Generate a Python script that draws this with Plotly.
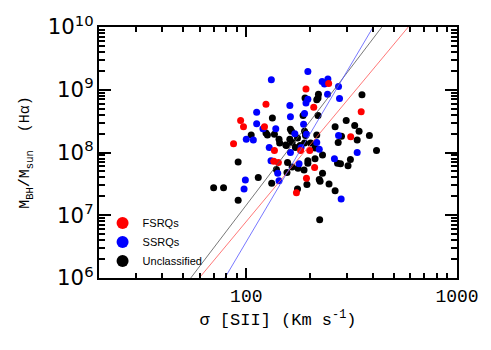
import plotly.graph_objects as go

# FSRQs: sigma [SII] (km/s), log10 M_BH
fsrq_sigma = [124, 94, 97, 122, 87, 136, 192, 209, 246, 351, 313, 181, 200, 135, 142, 211, 193, 173]
fsrq_logm = [8.77, 8.51, 8.41, 8.41, 8.14, 8.03, 9.01, 8.72, 9.10, 8.65, 8.25, 8.03, 8.03, 7.86, 7.84, 7.76, 7.59, 7.36]

# SSRQs
ssrq_sigma = [131.5, 161, 112, 162, 112, 120, 138, 170, 100, 108, 128.5, 162, 196, 229, 235, 244, 274, 243,
              277, 196, 192, 189, 187, 193, 274, 216, 222, 182, 336, 262, 282, 131, 178, 141, 143, 99, 97.6]
ssrq_logm = [9.16, 8.75, 8.64, 8.57, 8.46, 8.38, 8.38, 8.30, 8.21, 8.20, 8.08, 8.00, 9.29, 9.13, 9.09, 9.17, 9.05, 8.93,
             8.86, 8.85, 8.79, 8.62, 8.45, 8.29, 8.27, 8.16, 8.05, 8.08, 8.00, 7.90, 7.26, 7.87, 7.82, 7.67, 7.55, 7.56, 7.42]

# Unclassified
uncl_sigma = [133, 162, 164, 105.5, 124, 126, 136, 143, 144, 161, 154, 171, 220, 354, 190, 219, 216, 186, 219, 298,
              264, 327, 343, 189, 192, 175, 191, 216, 384, 283, 336, 273, 415, 165, 189, 202, 212, 230, 212, 196,
              196, 271, 280, 312, 304, 157, 165, 176, 188, 139, 156, 230, 114, 132, 222, 224, 194, 247, 264, 175,
              223, 91.5, 70, 78, 91.5, 155, 180]
uncl_logm = [8.55, 8.37, 8.34, 8.28, 8.31, 8.28, 8.29, 8.21, 8.15, 8.21, 8.12, 8.08, 8.93, 8.92, 8.87, 8.87, 8.84, 8.59, 8.59, 8.51,
             8.41, 8.43, 8.34, 8.34, 8.30, 8.23, 8.27, 8.28, 8.27, 8.26, 8.20, 8.16, 8.03, 8.16, 8.15, 8.15, 8.07, 7.96, 7.90, 7.87,
             7.83, 7.83, 7.82, 7.89, 7.79, 7.84, 7.77, 7.75, 7.72, 7.73, 7.68, 7.67, 7.60, 7.51, 7.57, 7.54, 7.49, 7.50, 7.39, 7.42,
             6.93, 7.85, 7.44, 7.44, 7.24, 8.11, 8.11]

# Fitted relations (endpoints)
fit_black_x = [54.5, 440]
fit_black_y = [1e6, 1e10]
fit_red_x = [59.8, 587]
fit_red_y = [1e6, 1e10]
fit_blue_x = [79.1, 400]
fit_blue_y = [1e6, 1e10]

XR = [1.30103, 3]
YR = [6, 10]

fig = go.Figure()

msize = 7
fig.add_trace(go.Scatter(x=uncl_sigma, y=[10 ** v for v in uncl_logm], mode="markers", legendrank=3,
                         marker=dict(color="black", size=msize), name="Unclassified"))
fig.add_trace(go.Scatter(x=ssrq_sigma, y=[10 ** v for v in ssrq_logm], mode="markers", legendrank=2,
                         marker=dict(color="blue", size=msize), name="SSRQs"))
fig.add_trace(go.Scatter(x=fsrq_sigma, y=[10 ** v for v in fsrq_logm], mode="markers", legendrank=1,
                         marker=dict(color="red", size=msize), name="FSRQs"))

fig.add_trace(go.Scatter(x=fit_black_x, y=fit_black_y, mode="lines", showlegend=False,
                         line=dict(color="#555555", width=0.8)))
fig.add_trace(go.Scatter(x=fit_red_x, y=fit_red_y, mode="lines", showlegend=False,
                         line=dict(color="#ff5555", width=0.8)))
fig.add_trace(go.Scatter(x=fit_blue_x, y=fit_blue_y, mode="lines", showlegend=False,
                         line=dict(color="#5555ff", width=0.8)))

fig.update_layout(
    xaxis=dict(type="log", range=XR, showgrid=False, zeroline=False,
               showline=True, linecolor="black", linewidth=2, mirror="ticks",
               ticks="inside", ticklen=10, tickwidth=2, tickcolor="black",
               dtick=1, exponentformat="none",
               tickfont=dict(family="Liberation Mono", size=18, color="black"),
               minor=dict(ticks="inside", dtick="D1", ticklen=5, tickwidth=1.5, tickcolor="black", showgrid=False),
               title=dict(text="σ [SII] (Km s<sup>-1</sup>)", standoff=8,
                          font=dict(family="Liberation Mono", size=17, color="black"))),
    yaxis=dict(type="log", range=YR, showgrid=False, zeroline=False,
               showline=True, linecolor="black", linewidth=2, mirror="ticks",
               ticks="inside", ticklen=12, tickwidth=2, tickcolor="black",
               dtick=1, exponentformat="power", showexponent="all",
               tickfont=dict(family="DejaVu Sans", size=17, color="black"),
               minor=dict(ticks="inside", dtick="D1", ticklen=6, tickwidth=1.5, tickcolor="black", showgrid=False),
               title=dict(text="M<sub>BH</sub>/M<sub>sun</sub>  (Hα)", standoff=14,
                          font=dict(family="Liberation Mono", size=15, color="black"))),
    legend=dict(x=0.01, y=0.01, xanchor="left", yanchor="bottom", bgcolor="rgba(0,0,0,0)",
                font=dict(family="Liberation Sans", size=11, color="black"),
                itemsizing="constant", tracegroupgap=0, itemwidth=30),
    width=491, height=350, margin=dict(l=99, r=26, t=17, b=72),
    plot_bgcolor="white", paper_bgcolor="white", showlegend=True,
)

fig.write_html("out.html", config={"displayModeBar": False},
               post_script="document.body.style.margin='0';")
